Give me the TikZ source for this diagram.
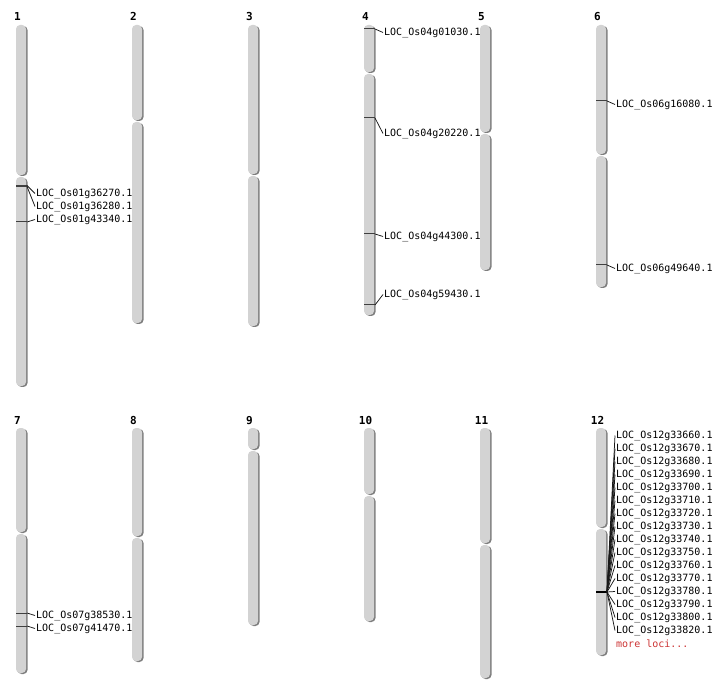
\documentclass[tikz,border=0pt]{standalone}
\usepackage{fontspec}
\setmonofont{DejaVu Sans Mono}
\usetikzlibrary{positioning}
\definecolor{chrfill}{HTML}{D3D3D3}
\definecolor{chrshade}{HTML}{7F7F7F}
\definecolor{lociRed}{HTML}{CC3333}

\tikzset{
	chrnum/.style={anchor=base, inner sep=0pt, font=\ttfamily\bfseries\fontsize{11}{11}\selectfont},
	locus/.style={anchor=west, inner sep=1pt, yshift=-1.5pt, font=\ttfamily\fontsize{10}{12}\selectfont},
	tick/.style={draw=black!75, line width=1pt},
	leader/.style={draw=black!90, line width=0.75pt},
	arm/.style={fill=chrfill, rounded corners=4pt},
	armshade/.style={fill=chrshade, rounded corners=4pt}
}

\begin{document}
\begin{tikzpicture}[x=1pt, y=-1pt]
	\useasboundingbox (0,0) rectangle (712,700);
	% chromosomes: left / top / centromere / bottom / number
	\foreach \l/\t/\c/\b/\n in {16/25/176/386/1, 132/25/121/323/2, 248/25/175/326/3,
			364/25/73/315/4, 480/25/133/270/5, 596/25/155/287/6,
			16/428/533/673/7, 132/428/537/661/8, 248/428/450/625/9,
			364/428/495/621/10, 480/428/544/678/11, 596/428/528/655/12} {
		\path[armshade] (\l+1.5,\t+1) rectangle (\l+11.5,\c);
		\path[armshade] (\l+1.5,\c+2) rectangle (\l+11.5,\b+1);
		\path[arm] (\l,\t) rectangle (\l+10,\c-1);
		\path[arm] (\l,\c+1) rectangle (\l+10,\b);
		\coordinate (c\n) at (\l,\t);
		\node[chrnum] (n\n) at (\l+1.5,\t-4) {\n};
	}

	% chromosome 1
	\coordinate (m1a) at (27,185.5);
	\coordinate (m1b) at (27,186.5);
	\coordinate (m1c) at (27,222);
	\node[locus] (l1a) at (35,192) {LOC\_Os01g36270.1};
	\node[locus] (l1b) at (35,205) {LOC\_Os01g36280.1};
	\node[locus] (l1c) at (35,218) {LOC\_Os01g43340.1};
	\draw[tick] (c1 |- m1a) -- (m1a);
	\draw[tick] (c1 |- m1b) -- (m1b);
	\draw[tick] (c1 |- m1c) -- (m1c);
	\path[leader]
		(m1a) edge (l1a.west)
		(m1b) edge (l1b.west)
		(m1c) edge (l1c.west);

	% chromosome 4
	\coordinate (m4a) at (375,29);
	\coordinate (m4b) at (375,118);
	\coordinate (m4c) at (375,234);
	\coordinate (m4d) at (375,305);
	\node[locus] (l4a) at (383,31) {LOC\_Os04g01030.1};
	\node[locus] (l4b) at (383,132) {LOC\_Os04g20220.1};
	\node[locus] (l4c) at (383,235) {LOC\_Os04g44300.1};
	\node[locus] (l4d) at (383,293) {LOC\_Os04g59430.1};
	\foreach \m in {a,b,c,d} {
		\draw[tick] (c4 |- m4\m) -- (m4\m);
		\draw[leader] (m4\m) -- (l4\m.west);
	}

	% chromosome 6
	\coordinate (m6a) at (607,101);
	\coordinate (m6b) at (607,265);
	\node[locus] (l6a) at (615,103) {LOC\_Os06g16080.1};
	\node[locus] (l6b) at (615,267) {LOC\_Os06g49640.1};
	\foreach \m in {a,b} {
		\draw[tick] (c6 |- m6\m) -- (m6\m);
		\draw[leader] (m6\m) -- (l6\m.west);
	}

	% chromosome 7
	\coordinate (m7a) at (27,613);
	\coordinate (m7b) at (27,626);
	\node[locus] (l7a) at (35,614) {LOC\_Os07g38530.1};
	\node[locus] (l7b) at (35,627) {LOC\_Os07g41470.1};
	\foreach \m in {a,b} {
		\draw[tick] (c7 |- m7\m) -- (m7\m);
		\draw[leader] (m7\m) -- (l7\m.west);
	}

	% chromosome 12
	\coordinate (m12) at (607,592);
	\draw[tick, draw=black, line width=2pt] (c12 |- m12) -- (m12);
	\foreach \g [count=\i] in {33660,33670,33680,33690,33700,33710,33720,33730,
			33740,33750,33760,33770,33780,33790,33800,33820} {
		\node[locus] (l12-\i) at (615,421+13*\i) {LOC\_Os12g\g.1};
		\draw[leader] (m12) -- (l12-\i.west);
	}
	\node[locus, text=lociRed] (more) at (615,642) {more loci...};
\end{tikzpicture}
\end{document}
